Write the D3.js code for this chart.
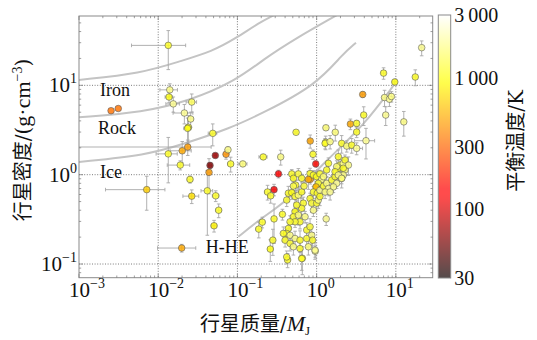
<!DOCTYPE html>
<html>
<head>
<meta charset="utf-8">
<script src="https://cdn.jsdelivr.net/npm/d3@7"></script>
<style>
  body { margin: 0; background: #fff; }
  text { font-family: "DejaVu Serif", "Liberation Serif", serif, "Noto Sans CJK SC"; fill: #111; }
  .lat { font-family: "Liberation Serif", "Times New Roman", serif; }
</style>
</head>
<body>
<div id="chart"></div>
<script>
// planet rows: [mass (MJ), mass err, density (g/cm3), density err, Teq (K)]
const smallPlanets = [
  [0.0134, 0.0088, 28, 13, 1100], [0.0140, 0.0035, 8.9, 1.5, 1700], [0.0137, 0.0015, 7.4, 1.0, 1000],
  [0.0155, 0.0030, 6.2, 1.2, 1800], [0.0265, 0.0040, 6.5, 1.5, 1400], [0.0214, 0.0060, 4.9, 1.2, 1800],
  [0.0257, 0.0020, 4.2, 0.8, 1700], [0.0240, 0.0020, 3.4, 1.2, 1100], [0.0235, 0.0025, 3.3, 1.0, 1000],
  [0.0488, 0.0060, 2.9, 0.8, 1100], [0.00254, 0, 5.2, 0, 330], [0.00313, 0, 5.5, 0, 330],
  [0.0134, 0.0040, 1.71, 0.9, 1100], [0.0201, 0.0060, 1.85, 0.5, 500], [0.0236, 0.0230, 2.04, 0.4, 450],
  [0.0190, 0.0060, 1.28, 0.15, 1100], [0.00716, 0.0050, 0.68, 0.28, 650], [0.0252, 0.0020, 0.885, 0.08, 1100],
  [0.0265, 0.0060, 0.575, 0.10, 750], [0.0417, 0.0070, 0.66, 0.45, 1100], [0.0532, 0.0050, 0.58, 0.08, 1100],
  [0.058, 0.0050, 0.40, 0.07, 1100], [0.0507, 0.0040, 0.268, 0.04, 850], [0.0438, 0.0020, 1.06, 0.45, 450],
  [0.0451, 0.0020, 1.27, 0.10, 60], [0.0526, 0.0020, 1.64, 0.10, 70], [0.0718, 0.0050, 1.69, 0.20, 420],
  [0.076, 0.0050, 1.90, 0.15, 1700], [0.0822, 0.0070, 1.32, 0.25, 1100], [0.117, 0.0150, 1.32, 0.08, 1600],
  [0.0198, 0.0100, 0.151, 0.015, 500]
];
const giantPlanets = [
  [0.186, 0.015, 0.246, 0.05, 1100], [0.212, 0.025, 1.58, 0.1, 1100], [0.352, 0.02, 1.58, 0.3, 1700],
  [0.55, 0.02, 2.98, 0.1, 1100], [0.83, 0.04, 2.38, 0.4, 480], [1.31, 0.08, 3.35, 0.2, 1600],
  [1.72, 0.10, 2.98, 0.6, 1600], [2.67, 0.15, 3.69, 0.5, 500], [3.2, 0.2, 3.75, 0.3, 1100],
  [3.82, 0.2, 7.9, 0.6, 450], [3.93, 0.25, 4.65, 1.1, 1100], [7.0, 0.4, 13.7, 2.0, 1100],
  [9.7, 0.6, 10.9, 0.8, 1000], [7.2, 0.5, 7.3, 1.5, 1700], [8.3, 0.5, 7.0, 1.2, 1800],
  [8.8, 0.5, 7.5, 1.0, 1700], [7.45, 0.5, 4.65, 1.1, 1800], [12.6, 0.8, 3.9, 1.2, 1700],
  [17.6, 1.0, 12.4, 2.5, 1100], [21.2, 1.0, 26.4, 5, 1800], [4.2, 1.2, 2.4, 0.9, 1800],
  [0.90, 0.05, 1.69, 0.2, 1100], [1.30, 0.08, 2.3, 0.4, 1100], [3.2, 0.2, 3.0, 0.4, 1100],
  [0.975, 0.03, 1.32, 0.1, 150], [0.33, 0.02, 1.02, 0.1, 130], [0.29, 0.02, 0.68, 0.1, 120],
  [0.24, 0.02, 0.64, 0.12, 1100], [0.263, 0.02, 0.58, 0.10, 1100], [1.32, 0.06, 0.32, 0.05, 1800],
  [0.206, 0.015, 0.294, 0.04, 1100], [0.29, 0.02, 0.32, 0.15, 1100], [0.28, 0.02, 0.185, 0.06, 1100],
  [0.26, 0.02, 0.147, 0.04, 1000], [0.37, 0.02, 0.36, 0.05, 1100], [0.43, 0.03, 0.111, 0.02, 1100],
  [0.66, 0.03, 0.116, 0.04, 1100], [0.96, 0.05, 0.139, 0.02, 1700], [0.83, 0.04, 0.885, 0.1, 450],
  [1.0, 0.05, 0.73, 0.1, 450]
];
const hotJupiters = [
  [0.485, 0.03, 1.02, 0.12, 1100], [0.588, 0.03, 1.02, 0.15, 1200], [0.648, 0.03, 0.91, 0.1, 1100],
  [0.509, 0.02, 0.91, 0.12, 1050], [0.544, 0.03, 0.765, 0.1, 1100], [0.509, 0.03, 0.745, 0.08, 1300],
  [0.44, 0.02, 0.62, 0.12, 1100], [0.419, 0.02, 0.52, 0.08, 1150], [0.485, 0.03, 0.63, 0.1, 1000],
  [0.534, 0.03, 0.57, 0.09, 1100], [0.588, 0.03, 0.59, 0.15, 1600], [0.648, 0.04, 0.64, 0.1, 1100],
  [0.693, 0.04, 0.745, 0.12, 1200], [0.826, 0.04, 1.03, 0.15, 1100], [0.787, 0.05, 0.885, 0.2, 500],
  [0.91, 0.05, 0.99, 0.12, 1100], [1.00, 0.05, 0.95, 0.15, 1000], [1.10, 0.06, 1.02, 0.1, 1100],
  [1.16, 0.05, 0.885, 0.12, 1700], [1.05, 0.05, 0.80, 0.1, 1100], [0.98, 0.05, 0.73, 0.1, 600],
  [0.91, 0.04, 0.64, 0.1, 1100], [1.02, 0.05, 0.62, 0.12, 1100], [1.10, 0.05, 0.67, 0.1, 1800],
  [1.22, 0.06, 0.745, 0.12, 1100], [1.34, 0.06, 0.80, 0.15, 1700], [1.41, 0.07, 0.70, 0.12, 1900],
  [1.28, 0.06, 0.64, 0.1, 1600], [1.55, 0.08, 0.87, 0.1, 1100], [1.71, 0.08, 0.95, 0.15, 1100],
  [1.79, 0.09, 1.08, 0.2, 1700], [1.88, 0.1, 1.18, 0.15, 1100], [1.97, 0.1, 1.28, 0.2, 1100],
  [2.17, 0.1, 1.34, 0.2, 1800], [2.28, 0.12, 1.13, 0.15, 1600], [2.17, 0.1, 0.99, 0.1, 1700],
  [2.07, 0.1, 0.91, 0.12, 1100], [1.79, 0.08, 0.80, 0.1, 1800], [1.63, 0.08, 0.73, 0.1, 1700],
  [1.48, 0.07, 0.64, 0.12, 1800], [0.826, 0.04, 0.54, 0.08, 1100], [0.867, 0.04, 0.48, 0.1, 1200],
  [0.91, 0.05, 0.40, 0.06, 1700], [0.68, 0.04, 0.48, 0.08, 1100], [0.648, 0.03, 0.42, 0.1, 1100],
  [0.56, 0.03, 0.457, 0.06, 1100], [0.534, 0.03, 0.385, 0.05, 1000], [0.509, 0.03, 0.338, 0.06, 1100],
  [0.588, 0.03, 0.353, 0.08, 1600], [0.617, 0.03, 0.297, 0.05, 1100], [0.534, 0.03, 0.297, 0.04, 1100],
  [0.462, 0.02, 0.297, 0.05, 1100], [0.44, 0.03, 0.25, 0.04, 1100], [0.419, 0.02, 0.22, 0.03, 1100],
  [0.462, 0.03, 0.21, 0.05, 1700], [0.38, 0.02, 0.22, 0.04, 1100], [0.40, 0.02, 0.185, 0.03, 1100],
  [0.462, 0.03, 0.17, 0.03, 1100], [0.534, 0.03, 0.193, 0.04, 1700], [0.617, 0.03, 0.185, 0.05, 1100],
  [0.75, 0.04, 0.193, 0.04, 1100], [0.787, 0.04, 0.156, 0.03, 1600], [0.867, 0.04, 0.21, 0.05, 1700],
  [0.89, 0.05, 0.185, 0.04, 1100], [0.955, 0.05, 0.143, 0.03, 1800], [0.617, 0.03, 0.149, 0.03, 1100],
  [0.509, 0.03, 0.156, 0.03, 1700], [0.419, 0.02, 0.12, 0.02, 1100], [0.648, 0.03, 0.115, 0.03, 1100],
  [0.75, 0.04, 0.24, 0.05, 1100], [0.826, 0.04, 0.261, 0.06, 1200], [0.714, 0.04, 0.338, 0.05, 1700],
  [1.00, 0.05, 0.48, 0.08, 1100], [1.05, 0.05, 0.52, 0.1, 1600], [1.10, 0.06, 0.57, 0.12, 1100],
  [1.28, 0.06, 2.24, 0.3, 1100], [1.48, 0.07, 2.34, 0.4, 1700], [2.07, 0.1, 2.24, 0.5, 1100],
  [2.40, 0.12, 2.09, 0.3, 1600], [2.77, 0.14, 2.14, 0.4, 1100], [3.2, 0.6, 1.97, 0.3, 1800],
  [1.88, 0.09, 1.59, 0.3, 1100], [2.28, 0.11, 1.46, 0.2, 1100], [2.52, 0.13, 1.28, 0.3, 1700],
  [2.17, 0.11, 1.18, 0.2, 1100], [1.79, 0.09, 1.23, 0.2, 1600], [1.71, 0.08, 1.08, 0.15, 1100],
  [1.88, 0.09, 0.99, 0.15, 1800], [2.07, 0.1, 0.91, 0.2, 1700], [1.41, 0.07, 1.34, 0.2, 1100],
  [1.34, 0.06, 1.13, 0.2, 1100], [1.22, 0.06, 0.95, 0.15, 1600]
];

// composition curves: [mass, density]
const ironCurve = [[0.001, 11.5], [0.0061, 13.6], [0.0188, 18.6], [0.0482, 24.0], [0.095, 33.5], [0.188, 50.2], [0.3, 62]];
const rockCurve = [[0.001, 4.39], [0.0065, 5.0], [0.0245, 6.67], [0.095, 11.2], [0.212, 19.5], [0.561, 34.0], [1.8, 61]];
const iceCurve = [[0.001, 1.39], [0.0072, 1.66], [0.020, 2.18], [0.0807, 3.30], [0.210, 4.9], [0.98, 10], [2.17, 22.8], [3.14, 30.0]];
const hheCurve = [[0.1026, 0.202], [0.212, 0.338], [0.44, 0.52], [1.34, 1.46], [3.89, 3.5], [9.77, 10.5]];

const curveLabels = [
  {text: "Iron", m: 0.00184, d: 8.9},
  {text: "Rock", m: 0.00174, d: 3.35},
  {text: "Ice", m: 0.00184, d: 1.08},
  {text: "H-HE", m: 0.0398, d: 0.155}
];

const xDecades = [-3, -2, -1, 0, 1];
const yDecades = [-1, 0, 1];
const tempTicks = [30, 100, 300, 1000, 3000];
const tempTickLabels = ["30", "100", "300", "1\u2009000", "3\u2009000"];

const width = 537, height = 340;
const svg = d3.select("#chart").append("svg")
  .attr("width", width).attr("height", height);

const x = d3.scaleLog().domain([0.001, 29.2]).range([79, 432.7]);
const y = d3.scaleLog().domain([0.0703, 59.7]).range([277.7, 16]);
const tScale = d3.scaleLog().domain([30, 3000]).range([0, 1]).clamp(true);

// "hot"-like ramp: grey-black -> red -> yellow -> white
function hot(v) {
  const t = tScale(v);
  const r = t < 0.31 ? 0.05 + 0.95 * t / 0.31 : 1;
  const g = t < 0.34 ? 0 : (t < 0.746 ? (t - 0.34) / 0.406 : 1);
  const b = t < 0.746 ? 0 : (t - 0.746) / 0.254;
  return d3.rgb(r * 255, g * 255, b * 255).toString();
}

const plotL = 79, plotR = 432.7, plotT = 16, plotB = 277.7;

svg.append("defs").append("clipPath").attr("id", "plotclip")
  .append("rect").attr("x", plotL).attr("y", plotT)
  .attr("width", plotR - plotL).attr("height", plotB - plotT);

// grid
const grid = svg.append("g").attr("stroke", "#444").attr("stroke-width", 0.7)
  .attr("stroke-dasharray", "1,1.6");
xDecades.filter(e => e > -3).forEach(e => {
  grid.append("line").attr("x1", x(10 ** e)).attr("x2", x(10 ** e))
    .attr("y1", plotT).attr("y2", plotB);
});
yDecades.forEach(e => {
  grid.append("line").attr("y1", y(10 ** e)).attr("y2", y(10 ** e))
    .attr("x1", plotL).attr("x2", plotR);
});

// composition curves
const line = d3.line().x(d => x(d[0])).y(d => y(d[1])).curve(d3.curveBasis);
svg.append("g").attr("clip-path", "url(#plotclip)")
  .selectAll("path")
  .data([ironCurve, rockCurve, iceCurve, hheCurve])
  .join("path")
  .attr("d", line)
  .attr("fill", "none")
  .attr("stroke", "#c4c4c4")
  .attr("stroke-width", 2);

const allPlanets = smallPlanets.concat(giantPlanets, hotJupiters);

// error bars
const eb = svg.append("g").attr("stroke", "#a8a8a8").attr("stroke-width", 0.9)
  .attr("clip-path", "url(#plotclip)");
const cap = 1.8;
allPlanets.forEach(p => {
  const [m, dm, d, dd] = p;
  const cx = x(m), cy = y(d);
  if (dm > 0) {
    const x0 = x(Math.max(m - dm, 0.0009)), x1 = x(m + dm);
    eb.append("line").attr("x1", x0).attr("x2", x1).attr("y1", cy).attr("y2", cy);
    eb.append("line").attr("x1", x0).attr("x2", x0).attr("y1", cy - cap).attr("y2", cy + cap);
    eb.append("line").attr("x1", x1).attr("x2", x1).attr("y1", cy - cap).attr("y2", cy + cap);
  }
  if (dd > 0) {
    const y0 = y(Math.max(d - dd, 0.06)), y1 = y(d + dd);
    eb.append("line").attr("x1", cx).attr("x2", cx).attr("y1", y0).attr("y2", y1);
    eb.append("line").attr("y1", y0).attr("y2", y0).attr("x1", cx - cap).attr("x2", cx + cap);
    eb.append("line").attr("y1", y1).attr("y2", y1).attr("x1", cx - cap).attr("x2", cx + cap);
  }
});

// points
svg.append("g").selectAll("circle")
  .data(allPlanets)
  .join("circle")
  .attr("cx", d => x(d[0]))
  .attr("cy", d => y(d[2]))
  .attr("r", 3.3)
  .attr("fill", d => hot(d[4]))
  .attr("fill-opacity", 0.82)
  .attr("stroke", "#5a5a5a")
  .attr("stroke-width", 0.6);

// curve labels
svg.append("g").selectAll("text")
  .data(curveLabels)
  .join("text")
  .attr("class", "lat")
  .attr("x", d => x(d.m))
  .attr("y", d => y(d.d))
  .attr("dy", "0.33em")
  .attr("font-size", 18)
  .text(d => d.text);

// frame + ticks (inward, all sides)
svg.append("rect").attr("x", plotL).attr("y", plotT)
  .attr("width", plotR - plotL).attr("height", plotB - plotT)
  .attr("fill", "none").attr("stroke", "#8a8a8a").attr("stroke-width", 1);

const tk = svg.append("g").attr("stroke", "#777").attr("stroke-width", 0.7);
const isMajor = v => Math.abs(Math.log10(v) - Math.round(Math.log10(v))) < 1e-6;
x.ticks().forEach(v => {
  const len = isMajor(v) ? 4 : 2.2, px = x(v);
  tk.append("line").attr("x1", px).attr("x2", px).attr("y1", plotB).attr("y2", plotB - len);
  tk.append("line").attr("x1", px).attr("x2", px).attr("y1", plotT).attr("y2", plotT + len);
});
y.ticks().forEach(v => {
  const len = isMajor(v) ? 4 : 2.2, py = y(v);
  tk.append("line").attr("y1", py).attr("y2", py).attr("x1", plotL).attr("x2", plotL + len);
  tk.append("line").attr("y1", py).attr("y2", py).attr("x1", plotR).attr("x2", plotR - len);
});

const fmtExp = e => (e < 0 ? "\u2212" : "") + Math.abs(e);

// x tick labels
xDecades.forEach(e => {
  const t = svg.append("text").attr("class", "lat")
    .attr("x", x(10 ** e) - 10).attr("y", 297).attr("font-size", 21);
  t.append("tspan").text("10");
  t.append("tspan").attr("font-size", 14).attr("dy", -9).text(fmtExp(e));
});
// y tick labels
yDecades.forEach(e => {
  const t = svg.append("text").attr("class", "lat")
    .attr("x", 77).attr("y", y(10 ** e) + 7)
    .attr("font-size", 21).attr("text-anchor", "end");
  t.append("tspan").text("10");
  t.append("tspan").attr("font-size", 14).attr("dy", -9).text(fmtExp(e));
});

// axis labels
const xl = svg.append("text").attr("x", 255).attr("y", 331)
  .attr("text-anchor", "middle").attr("font-size", 20);
xl.append("tspan").text("行星质量/");
xl.append("tspan").attr("class", "lat").attr("font-style", "italic").attr("font-size", 22).text("M");
xl.append("tspan").attr("class", "lat").attr("font-size", 13).attr("dy", 4).text("J");

const yl = svg.append("text").attr("transform", "translate(30,140) rotate(-90)")
  .attr("text-anchor", "middle").attr("font-size", 20);
yl.append("tspan").text("行星密度/(");
yl.append("tspan").attr("class", "lat").attr("font-size", 22).text("g·cm");
yl.append("tspan").attr("class", "lat").attr("font-size", 14).attr("dy", -8).text("\u22123");
yl.append("tspan").attr("dy", 8).text(")");

// colorbar
const cbX = 438.3, cbW = 12.4, cbT = 15, cbB = 278;
const cy = d3.scaleLog().domain([30, 3000]).range([cbB, cbT]);
const grad = svg.select("defs").append("linearGradient").attr("id", "cbgrad")
  .attr("x1", 0).attr("x2", 0).attr("y1", 1).attr("y2", 0);
grad.selectAll("stop")
  .data(d3.range(0, 1.0001, 0.02))
  .join("stop")
  .attr("offset", d => d)
  .attr("stop-color", d => hot(tScale.invert(d)));
svg.append("rect").attr("x", cbX).attr("y", cbT).attr("width", cbW).attr("height", cbB - cbT)
  .attr("fill", "url(#cbgrad)").attr("fill-opacity", 0.7);
svg.append("rect").attr("x", cbX).attr("y", cbT).attr("width", cbW).attr("height", cbB - cbT)
  .attr("fill", "none").attr("stroke", "#8a8a8a").attr("stroke-width", 1);

svg.append("g").selectAll("text")
  .data(tempTicks)
  .join("text")
  .attr("class", "lat")
  .attr("x", cbX + cbW + 3.5)
  .attr("y", d => cy(d))
  .attr("dy", "0.35em")
  .attr("font-size", 20)
  .text((d, i) => tempTickLabels[i]);

svg.append("text").attr("transform", "translate(523,141) rotate(-90)")
  .attr("text-anchor", "middle").attr("font-size", 20)
  .text("平衡温度/K");
</script>
</body>
</html>
